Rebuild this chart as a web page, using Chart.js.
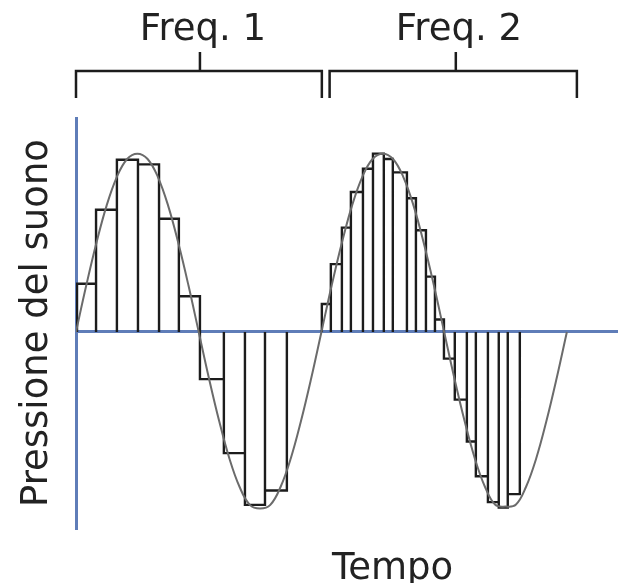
<!DOCTYPE html>
<html>
<head>
<meta charset="utf-8">
<script src="https://cdn.jsdelivr.net/npm/chart.js@4/dist/chart.umd.min.js"></script>
<style>
  html, body { margin: 0; padding: 0; background: #ffffff; }
  #wrap { width: 618px; height: 583px; }
</style>
</head>
<body>
<div id="wrap"><canvas id="chart"></canvas></div>
<script>
// Sound wave (one period = 12 time units)
const curveTime = [0, 0.5, 1, 1.5, 2, 2.5, 3, 3.5, 4, 4.5, 5, 5.5, 6, 6.5, 7, 7.5, 8, 8.5, 9, 9.5, 10, 10.5, 11, 11.5,
                   12, 12.5, 13, 13.5, 14, 14.5, 15, 15.5, 16, 16.5, 17, 17.5, 18, 18.5, 19, 19.5, 20, 20.5, 21, 21.5, 22, 22.5, 23, 23.5, 24];
const curveValues = [0, 0.26, 0.5, 0.71, 0.87, 0.97, 1.0, 0.97, 0.87, 0.71, 0.5, 0.26, 0, -0.26, -0.5, -0.71, -0.87, -0.97, -0.99, -0.97, -0.87, -0.71, -0.5, -0.26,
                     0, 0.26, 0.5, 0.71, 0.87, 0.97, 1.0, 0.97, 0.87, 0.71, 0.5, 0.26, 0, -0.26, -0.5, -0.71, -0.87, -0.97, -0.98, -0.97, -0.87, -0.71, -0.5, -0.26, 0];

// Sampling at frequency 1: interval edges and held values
const freq1Edges = [0.05, 0.98, 2.0, 3.03, 4.06, 5.03, 6.06, 7.23, 8.26, 9.24, 10.31];
const freq1Values = [0.27, 0.685, 0.966, 0.94, 0.635, 0.2, -0.265, -0.68, -0.97, -0.89];

// Sampling at frequency 2
const freq2Edges = [12.02, 12.46, 13.0, 13.44, 14.03, 14.52, 15.05, 15.49, 16.18, 16.62, 17.11, 17.55, 17.99,
                    18.52, 19.11, 19.55, 20.14, 20.67, 21.11, 21.7];
const freq2Values = [0.157, 0.38, 0.585, 0.785, 0.915, 1.0, 0.97, 0.895, 0.75, 0.57, 0.31, 0.07,
                     -0.15, -0.38, -0.615, -0.81, -0.955, -0.985, -0.91];

// Brackets above the plot
const bracketLabels = ['Freq. 1', 'Freq. 2'];
const bracketStart = [0, 12.4];
const bracketEnd = [12.02, 24.49];
const bracketMid = [6.06, 18.57];

const AXIS_BLUE = '#5f7db8';
const INK = '#1c1c1c';
const FONT = "'DejaVu Sans', Verdana, sans-serif";

// rectangle outlines of the held samples
function sampleOutline(edges, values) {
    const pts = [];
    values.forEach((v, i) => {
        pts.push({x: edges[i], y: 0}, {x: edges[i], y: v}, {x: edges[i + 1], y: v}, {x: edges[i + 1], y: 0});
    });
    return pts;
}

const bracketPlugin = {
    id: 'brackets',
    afterDraw(chart) {
        const {ctx, chartArea} = chart;
        const xs = chart.scales.x;
        const top = chartArea.top;
        ctx.save();
        ctx.strokeStyle = INK;
        ctx.lineWidth = 2.5;
        ctx.fillStyle = '#222';
        ctx.font = '37px ' + FONT;
        ctx.textAlign = 'center';
        ctx.textBaseline = 'alphabetic';
        bracketLabels.forEach((label, i) => {
            const x0 = xs.getPixelForValue(bracketStart[i]);
            const x1 = xs.getPixelForValue(bracketEnd[i]);
            const xm = xs.getPixelForValue(bracketMid[i]);
            ctx.beginPath();
            ctx.moveTo(x0, top - 20);
            ctx.lineTo(x0, top - 47);
            ctx.lineTo(x1, top - 47);
            ctx.lineTo(x1, top - 20);
            ctx.moveTo(xm, top - 47);
            ctx.lineTo(xm, top - 66);
            ctx.stroke();
            ctx.fillText(label, xm + 3, top - 78);
        });
        // x axis name
        ctx.textAlign = 'left';
        ctx.fillText('Tempo', chartArea.left + 256, chartArea.bottom + 51);
        ctx.restore();
    }
};

const ctx = document.getElementById('chart').getContext('2d');
new Chart(ctx, {
    type: 'line',
    data: {
        datasets: [{
            label: 'Onda',
            data: curveTime.map((t, i) => ({x: t, y: curveValues[i]})),
            borderColor: '#6b6b6b',
            borderWidth: 2,
            tension: 0.4,
            pointRadius: 0,
            order: 1
        }, {
            label: 'Freq. 1',
            data: sampleOutline(freq1Edges, freq1Values),
            borderColor: INK,
            borderWidth: 2.4,
            tension: 0,
            pointRadius: 0,
            order: 2
        }, {
            label: 'Freq. 2',
            data: sampleOutline(freq2Edges, freq2Values),
            borderColor: INK,
            borderWidth: 2.4,
            tension: 0,
            pointRadius: 0,
            order: 3
        }]
    },
    options: {
        responsive: true,
        maintainAspectRatio: false,
        animation: false,
        events: [],
        layout: {
            padding: {top: 118, bottom: 55, left: 0, right: 0}
        },
        plugins: {
            legend: {display: false},
            tooltip: {enabled: false}
        },
        scales: {
            x: {
                type: 'linear',
                min: 0,
                max: 26.5,
                display: false
            },
            y: {
                min: -1.1,
                max: 1.2,
                ticks: {display: false},
                border: {display: true, color: AXIS_BLUE, width: 3},
                grid: {
                    drawTicks: false,
                    lineWidth: 3,
                    color: c => (c.tick && Math.abs(c.tick.value) < 1e-9) ? AXIS_BLUE : 'rgba(0,0,0,0)'
                },
                title: {
                    display: true,
                    text: 'Pressione del suono',
                    color: '#222',
                    font: {family: FONT, size: 37},
                    padding: {top: 15, bottom: 0}
                },
                afterFit: scale => { scale.width = 76; }
            }
        }
    },
    plugins: [bracketPlugin]
});
</script>
</body>
</html>
